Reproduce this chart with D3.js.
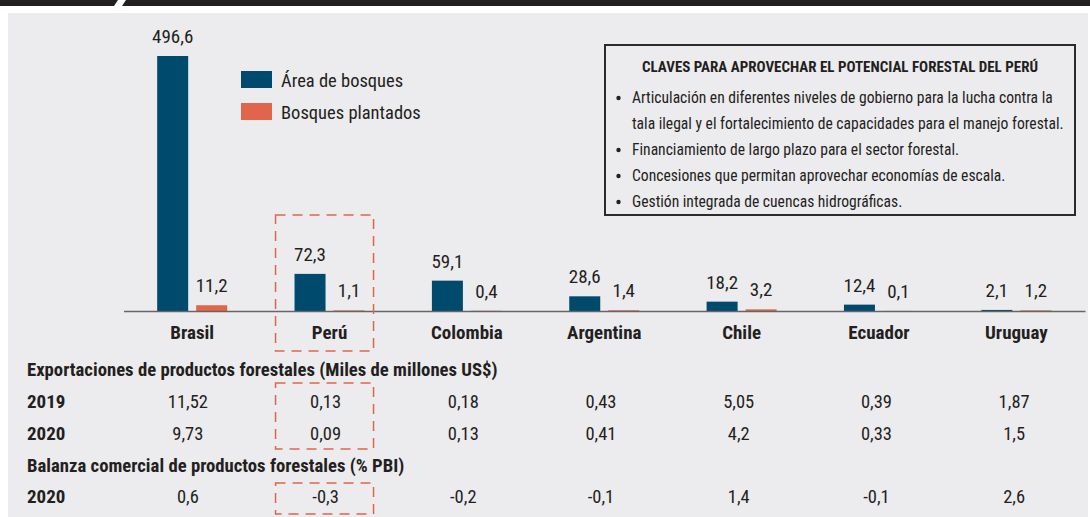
<!DOCTYPE html>
<html><head><meta charset="utf-8">
<script src="https://cdn.jsdelivr.net/npm/d3@7"></script>
<style>
html,body{margin:0;padding:0;background:#fff;}
svg{display:block;font-family:"Liberation Sans Narrow","Roboto Condensed","DejaVu Sans Condensed",sans-serif;}
</style></head>
<body>
<svg id="c" width="1090" height="517"></svg>
<script>
const countries = ["Brasil","Perú","Colombia","Argentina","Chile","Ecuador","Uruguay"];
const series = ["Área de bosques","Bosques plantados"];
const areaBosques = [496.6, 72.3, 59.1, 28.6, 18.2, 12.4, 2.1];
const bosquesPlantados = [11.2, 1.1, 0.4, 1.4, 3.2, 0.1, 1.2];
const export2019 = [11.52, 0.13, 0.18, 0.43, 5.05, 0.39, 1.87];
const export2020 = [9.73, 0.09, 0.13, 0.41, 4.2, 0.33, 1.5];
const balanza2020 = [0.6, -0.3, -0.2, -0.1, 1.4, -0.1, 2.6];
const boxTitle = "CLAVES PARA APROVECHAR EL POTENCIAL FORESTAL DEL PERÚ";
const boxLines = [
  {bullet:true, text:"Articulación en diferentes niveles de gobierno para la lucha contra la"},
  {bullet:false, text:"tala ilegal y el fortalecimiento de capacidades para el manejo forestal."},
  {bullet:true, text:"Financiamiento de largo plazo para el sector forestal."},
  {bullet:true, text:"Concesiones que permitan aprovechar economías de escala."},
  {bullet:true, text:"Gestión integrada de cuencas hidrográficas."}
];
const tableTitle1 = "Exportaciones de productos forestales (Miles de millones US$)";
const tableTitle2 = "Balanza comercial de productos forestales (% PBI)";

const colors = {blue:"#004a6e", orange:"#e0654a", bg:"#ecebee", text:"#231f20"};
const fmt = v => String(v).replace(".", ",");

const svg = d3.select("#c");

// header band
svg.append("path").attr("d","M0,0H118L114,6H0Z").attr("fill","#231f20");
svg.append("path").attr("d","M126,0H1090V6H122Z").attr("fill","#231f20");
// background panel
svg.append("rect").attr("x",8).attr("y",13).attr("width",1080).attr("height",504).attr("fill",colors.bg);

const x0 = d3.scaleBand().domain(countries).range([123.5,1085]);
const x1 = d3.scaleBand().domain(series).range([-35,35]).paddingInner(8/39);
const y = d3.scaleLinear().domain([0, 496.6]).range([311, 56]);

const data = countries.map((c,i)=>({c, vals:[areaBosques[i], bosquesPlantados[i]]}));
const g = svg.append("g");
const grp = g.selectAll("g.grp").data(data).join("g")
  .attr("transform", d=>`translate(${x0(d.c)+x0.bandwidth()/2},0)`);
grp.selectAll("rect").data(d=>d.vals.map((v,j)=>({v, s:series[j]}))).join("rect")
  .attr("x", d=>x1(d.s)).attr("width", x1.bandwidth())
  .attr("y", d=>y(d.v)).attr("height", d=>y(0)-y(d.v))
  .attr("fill", d=>d.s===series[0]?colors.blue:colors.orange);
grp.selectAll("text").data(d=>d.vals.map((v,j)=>({v, s:series[j]}))).join("text")
  .attr("x", d=>x1(d.s)+x1.bandwidth()/2).attr("y", d=>y(d.v)-13)
  .attr("text-anchor","middle").attr("font-size",19).attr("fill",colors.text)
  .text(d=>fmt(d.v));

// axis
const ax = svg.append("g").attr("transform","translate(0,311)")
  .call(d3.axisBottom(x0).tickSize(0).tickSizeOuter(0).tickPadding(10));
ax.attr("font-family",null);
ax.select(".domain").attr("stroke","#666").attr("stroke-width",1.5);
ax.selectAll("text").attr("font-size",19).attr("font-weight","bold").attr("fill",colors.text)
  .attr("dy",null).attr("y",28);

// legend
const lg = svg.append("g");
series.forEach((s,i)=>{
  lg.append("rect").attr("x",241).attr("y",71+i*32).attr("width",31).attr("height",17)
    .attr("fill", i===0?colors.blue:colors.orange);
  lg.append("text").attr("x",281).attr("y",87+i*32).attr("font-size",18.5).attr("fill",colors.text).text(s);
});

// info box
svg.append("rect").attr("x",605).attr("y",45).attr("width",470).attr("height",170)
  .attr("fill",colors.bg).attr("stroke","#2b2b2b").attr("stroke-width",2);
svg.append("text").attr("x",840).attr("y",72).attr("text-anchor","middle")
  .attr("font-size",15).attr("font-weight","bold").attr("fill",colors.text).text(boxTitle);
boxLines.forEach((l,i)=>{
  const yy = 103 + i*26;
  if(l.bullet) svg.append("circle").attr("cx",618.5).attr("cy",yy-5).attr("r",2.2).attr("fill",colors.text);
  svg.append("text").attr("x",632).attr("y",yy).attr("font-size",15.6).attr("fill",colors.text).text(l.text);
});

// table
const xt = d3.scaleBand().domain(countries).range([119,1083]);
const tcx = c => xt(c)+xt.bandwidth()/2;
svg.append("text").attr("x",27).attr("y",376).attr("font-size",18.7).attr("font-weight","bold").attr("fill",colors.text).text(tableTitle1);
svg.append("text").attr("x",27).attr("y",472).attr("font-size",18.7).attr("font-weight","bold").attr("fill",colors.text).text(tableTitle2);
const rows = [{label:"2019", vals:export2019, y:408},{label:"2020", vals:export2020, y:440},{label:"2020", vals:balanza2020, y:503}];
rows.forEach(r=>{
  svg.append("text").attr("x",27).attr("y",r.y).attr("font-size",19).attr("font-weight","bold").attr("fill",colors.text).text(r.label);
  svg.selectAll(null).data(r.vals.map((v,i)=>({v,c:countries[i]}))).join("text")
    .attr("x",d=>tcx(d.c)).attr("y",r.y).attr("text-anchor","middle").attr("font-size",18.5).attr("fill",colors.text)
    .text(d=>fmt(d.v));
});

// dashed highlight boxes around Perú
const px = x0("Perú")+x0.bandwidth()/2;
[[215,351],[383,449],[483,514]].forEach(([a,b])=>{
  svg.append("rect").attr("x",px-54).attr("y",a).attr("width",98).attr("height",b-a)
    .attr("fill","none").attr("stroke",colors.orange).attr("stroke-width",1.5).attr("stroke-dasharray","10,7");
});
</script>
</body></html>
